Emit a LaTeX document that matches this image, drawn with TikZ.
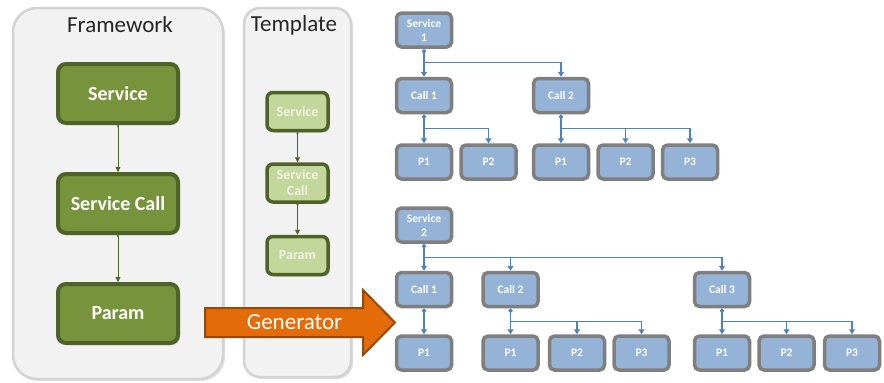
\documentclass[tikz,border=0pt]{standalone}
\usepackage{fontspec}
\setmainfont{Carlito}
\usetikzlibrary{positioning, arrows.meta, shadows, calc}
\definecolor{panelfill}{HTML}{F2F2F2}
\definecolor{panelline}{HTML}{D3D3D3}
\definecolor{fwgreen}{HTML}{77933C}
\definecolor{fwdark}{HTML}{4F6228}
\definecolor{tplgreen}{HTML}{C3D69B}
\definecolor{tpltext}{HTML}{EEF3E2}
\definecolor{svcblue}{HTML}{95B3D7}
\definecolor{svcline}{HTML}{7F7F7F}
\definecolor{linkblue}{HTML}{4F81BD}
\definecolor{genorange}{HTML}{E36C09}
\definecolor{gendark}{HTML}{984807}
\tikzset{
x=1pt, y=-1pt,
panel/.style={draw=panelline, fill=panelfill, line width=2.5pt, drop shadow={shadow xshift=2pt, shadow yshift=-2pt, opacity=.25}}, % grey boxes
title/.style={text=black!85, font=\fontsize{23}{27}\selectfont},
fwbox/.style={draw=fwdark, fill=fwgreen, line width=4pt, rounded corners=8pt, minimum width=120, minimum height=59, text=white, font=\bfseries\fontsize{20}{24}\selectfont, drop shadow={shadow xshift=2pt, shadow yshift=-2pt, opacity=.3}},
tplbox/.style={draw=fwdark, fill=tplgreen, line width=3.5pt, rounded corners=6pt, minimum width=61, minimum height=38, text=tpltext, align=center, font=\bfseries\fontsize{14}{16}\selectfont, drop shadow={shadow xshift=2pt, shadow yshift=-2pt, opacity=.3}},
svc/.style={draw=svcline, fill=svcblue, line width=3.5pt, rounded corners=5pt, minimum width=55, minimum height=34, text=white, align=center, font=\bfseries\fontsize{11.5}{14}\selectfont, drop shadow={shadow xshift=1.5pt, shadow yshift=-1.5pt, opacity=.3}},
fwlink/.style={draw=fwdark, line width=.8pt, {Circle[length=2pt]}-{Triangle[length=5pt,width=5pt]}},
link/.style={draw=linkblue, line width=1.2pt, -{Triangle[length=5pt,width=6pt]}},
trunk/.style={link, {Diamond[length=5pt,width=4.5pt]}-{Triangle[length=5pt,width=6pt]}},
}
\begin{document}
\begin{tikzpicture}
\useasboundingbox (0,0) rectangle (884,383);
% panels
\node[panel, rounded corners=24pt, minimum width=210, minimum height=371] (fw) at (118,193.5) {};
\node[panel, rounded corners=16pt, minimum width=107, minimum height=369] (tpl) at (297.5,192.5) {};
\node[title] (fwtitle) at (120,25) {Framework};
\node[title] (tpltitle) at (294,25) {Template};

% framework
\node[fwbox] (fwsvc) at (118,93.5) {Service};
\node[fwbox, below=47pt of fwsvc] (fwcall) {Service Call};
\node[fwbox, below=47pt of fwcall] (fwparam) {Param};
\draw[fwlink] (fwsvc) -- (fwcall);
\draw[fwlink] (fwcall) -- (fwparam);

% template
\node[tplbox] (tplsvc) at (297.5,111.5) {Service};
\node[tplbox, below=30pt of tplsvc] (tplcall) {Service\\Call};
\node[tplbox, below=31pt of tplcall] (tplparam) {Param};
\draw[fwlink] (tplsvc) -- (tplcall);
\draw[fwlink] (tplcall) -- (tplparam);

% generator arrow
\draw[draw=gendark, fill=genorange, line width=2pt, line join=miter]
  (205,308) -- (363,308) -- (363,290) -- (395,322.5) -- (363,355) -- (363,337) -- (205,337) -- cycle;
\node[text=white, font=\fontsize{23}{27}\selectfont] (gen) at (294.5,322.5) {Generator};

% service 1
\node[svc] (s1) at (424,30) {Service\\1};
\node[svc, below=28pt of s1] (s1c1) {Call 1};
\node[svc, below=29pt of s1c1] (s1c1p1) {P1};
\node[svc, right=6pt of s1c1p1] (s1c1p2) {P2};
\node[svc, right=14pt of s1c1p2] (s1c2p1) {P1};
\node[svc, right=6pt of s1c2p1] (s1c2p2) {P2};
\node[svc, right=6pt of s1c2p2] (s1c2p3) {P3};
\node[svc, above=29pt of s1c2p1] (s1c2) {Call 2};
\coordinate (s1b) at ($(s1.south)!.5!(s1c1.north)$);
\coordinate (s1c1b) at ($(s1c1.south)!.5!(s1c1p1.north)$);
\coordinate (s1c2b) at ($(s1c2.south)!.5!(s1c2p1.north)$);
\draw[trunk] (s1) -- (s1c1);
\draw[link] (s1b) -| (s1c2);
\draw[trunk] (s1c1) -- (s1c1p1);
\draw[link] (s1c1b) -| (s1c1p2);
\draw[trunk] (s1c2) -- (s1c2p1);
\draw[link] (s1c2b) -| (s1c2p2);
\draw[link] (s1c2b) -| (s1c2p3);

% service 2
\node[svc] (s2) at (424,225) {Service\\2};
\node[svc, below=27pt of s2] (s2c1) {Call 1};
\node[svc, below=26pt of s2c1] (s2c1p1) {P1};
\node[svc, right=28pt of s2c1] (s2c2) {Call 2};
\node[svc, below=26pt of s2c2] (s2c2p1) {P1};
\node[svc, right=8pt of s2c2p1] (s2c2p2) {P2};
\node[svc, right=6pt of s2c2p2] (s2c2p3) {P3};
\node[svc, right=153pt of s2c2] (s2c3) {Call 3};
\node[svc, below=26pt of s2c3] (s2c3p1) {P1};
\node[svc, right=6pt of s2c3p1] (s2c3p2) {P2};
\node[svc, right=7pt of s2c3p2] (s2c3p3) {P3};
\coordinate (s2b) at ($(s2.south)!.5!(s2c1.north)$);
\coordinate (s2c2b) at ($(s2c2.south)!.5!(s2c2p1.north)$);
\coordinate (s2c3b) at ($(s2c3.south)!.5!(s2c3p1.north)$);
\draw[trunk] (s2) -- (s2c1);
\draw[link] (s2b) -| (s2c2);
\draw[link] (s2b) -| (s2c3);
\draw[trunk] (s2c1) -- (s2c1p1);
\draw[trunk] (s2c2) -- (s2c2p1);
\draw[link] (s2c2b) -| (s2c2p2);
\draw[link] (s2c2b) -| (s2c2p3);
\draw[trunk] (s2c3) -- (s2c3p1);
\draw[link] (s2c3b) -| (s2c3p2);
\draw[link] (s2c3b) -| (s2c3p3);
\end{tikzpicture}
\end{document}
